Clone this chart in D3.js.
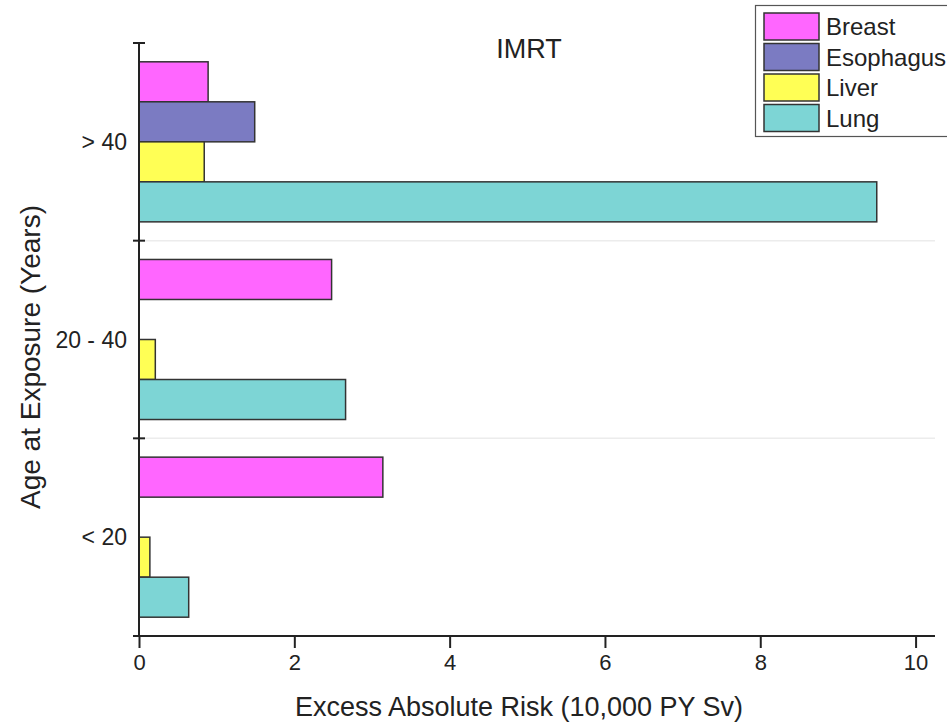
<!DOCTYPE html>
<html>
<head>
<meta charset="utf-8">
<script src="https://cdn.jsdelivr.net/npm/d3@7"></script>
<style>
  body { margin: 0; background: #fff; }
  text { font-family: "Liberation Sans", Arial, sans-serif; fill: #222; }
</style>
</head>
<body>
<svg id="chart"></svg>
<script>
// data
const ageGroups = ["> 40", "20 - 40", "< 20"];
const cancers = ["Breast", "Esophagus", "Liver", "Lung"];
const breast = [0.89, 2.48, 3.14];
const esophagus = [1.49, 0, 0];
const liver = [0.84, 0.21, 0.14];
const lung = [9.50, 2.66, 0.64];
const xTicks = [0, 2, 4, 6, 8, 10];

const colors = {
  Breast: "#ff66ff",
  Esophagus: "#7b7bc2",
  Liver: "#ffff55",
  Lung: "#7dd5d5"
};

const width = 947, height = 724;
const svg = d3.select("#chart").attr("width", width).attr("height", height);

const x = d3.scaleLinear().domain([0, 10.25]).range([139, 935]);
const y = d3.scaleBand().domain(ageGroups).range([43, 636]).padding(0);
const yInner = d3.scaleBand().domain(cancers).range([0, y.bandwidth()])
  .paddingInner(0).paddingOuter(0.47);

// rows for drawing
const seriesValues = { Breast: breast, Esophagus: esophagus, Liver: liver, Lung: lung };
const rows = [];
ageGroups.forEach((g, i) => {
  cancers.forEach(c => {
    const v = seriesValues[c][i];
    if (v > 0) rows.push({ group: g, cancer: c, value: v });
  });
});

// faint separators between the age groups
svg.append("g").selectAll("line")
  .data(ageGroups.slice(1))
  .join("line")
  .attr("x1", x(0)).attr("x2", x.range()[1])
  .attr("y1", d => y(d)).attr("y2", d => y(d))
  .attr("stroke", "#ececec").attr("stroke-width", 1.5);

// bars
svg.append("g").selectAll("rect")
  .data(rows)
  .join("rect")
  .attr("x", x(0))
  .attr("y", d => y(d.group) + yInner(d.cancer))
  .attr("width", d => x(d.value) - x(0))
  .attr("height", yInner.bandwidth())
  .attr("fill", d => colors[d.cancer])
  .attr("stroke", "#333")
  .attr("stroke-width", 1.5);

// x axis
const xAxis = svg.append("g").attr("transform", `translate(0,${y.range()[1]})`);
xAxis.call(d3.axisBottom(x).tickValues(d3.range(0, 10.01, 0.4)).tickSize(6).tickFormat(""))
  .call(g => g.select(".domain").remove());
xAxis.call(d3.axisBottom(x).tickValues(xTicks).tickSize(12).tickPadding(6).tickFormat(d3.format("d")))
  .call(g => g.select(".domain").remove())
  .call(g => g.selectAll("text").attr("font-size", 22).attr("fill", "#222"));
xAxis.selectAll("line").attr("stroke", "#222").attr("stroke-width", 2);
xAxis.append("line")
  .attr("x1", x(0)).attr("x2", x.range()[1])
  .attr("stroke", "#222").attr("stroke-width", 2);

// y axis
const yAxis = svg.append("g").attr("transform", `translate(${x(0)},0)`);
yAxis.append("line")
  .attr("y1", y.range()[0]).attr("y2", y.range()[1])
  .attr("stroke", "#222").attr("stroke-width", 2);
yAxis.selectAll(".tk")
  .data([...ageGroups.map(g => y(g)), y.range()[1]])
  .join("line")
  .attr("x1", -6).attr("x2", 6)
  .attr("y1", d => d).attr("y2", d => d)
  .attr("stroke", "#222").attr("stroke-width", 2);
yAxis.selectAll(".lb")
  .data(ageGroups)
  .join("text")
  .attr("x", -12)
  .attr("y", d => y(d) + y.bandwidth() / 2)
  .attr("dy", "0.35em")
  .attr("text-anchor", "end")
  .attr("font-size", 23)
  .text(d => d);

// titles
svg.append("text")
  .attr("x", 529).attr("y", 58)
  .attr("text-anchor", "middle")
  .attr("font-size", 27)
  .text("IMRT");

svg.append("text")
  .attr("x", 519).attr("y", 716)
  .attr("text-anchor", "middle")
  .attr("font-size", 27)
  .text("Excess Absolute Risk (10,000 PY Sv)");

svg.append("text")
  .attr("transform", "translate(40,357) rotate(-90)")
  .attr("text-anchor", "middle")
  .attr("font-size", 28)
  .text("Age at Exposure (Years)");

// legend
const legend = svg.append("g");
legend.append("rect")
  .attr("x", 755.5).attr("y", 5.5)
  .attr("width", 200).attr("height", 131)
  .attr("fill", "#fff").attr("stroke", "#555").attr("stroke-width", 1.2);
const item = legend.selectAll(".item")
  .data(cancers)
  .join("g")
  .attr("transform", (d, i) => `translate(764,${13 + i * 30.5})`);
item.append("rect")
  .attr("width", 55).attr("height", 27)
  .attr("fill", d => colors[d])
  .attr("stroke", "#333").attr("stroke-width", 1.5);
item.append("text")
  .attr("x", 62).attr("y", 14)
  .attr("dy", "0.35em")
  .attr("font-size", 24)
  .text(d => d);
</script>
</body>
</html>
